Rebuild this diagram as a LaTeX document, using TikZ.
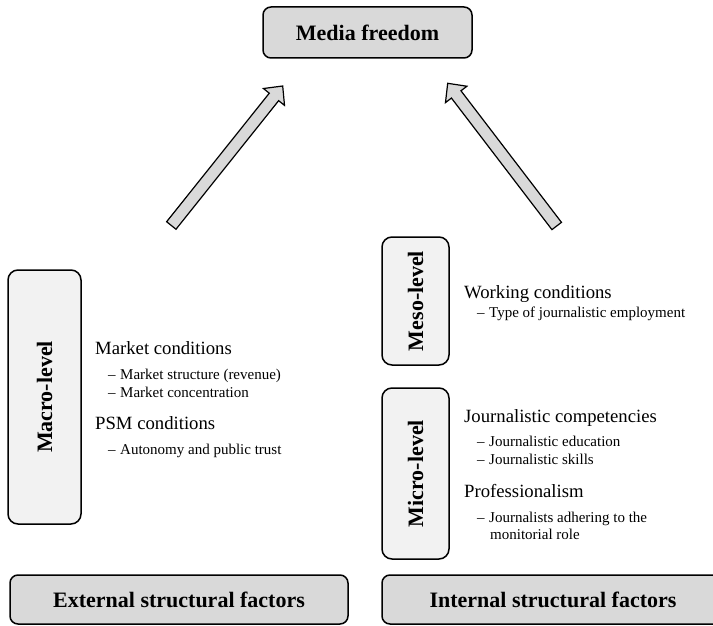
\documentclass[tikz,border=0pt]{standalone}
\usepackage{fontspec}
\setmainfont{Liberation Serif}
\usetikzlibrary{calc}
\definecolor{boxdark}{HTML}{D9D9D9}
\definecolor{boxlight}{HTML}{F2F2F2}
\begin{document}
\begin{tikzpicture}[x=1pt,y=-1pt,
  darkbox/.style={draw=black, line width=1.5pt, fill=boxdark, rounded corners=8pt, inner sep=0pt},
  lightbox/.style={draw=black, line width=1.5pt, fill=boxlight, rounded corners=10pt, inner sep=0pt},
  titletext/.style={font=\fontsize{22}{26}\selectfont\bfseries},
  headtext/.style={anchor=base west, inner sep=0pt, font=\fontsize{18.7}{22}\selectfont},
  itemtext/.style={anchor=base west, inner sep=0pt, font=\fontsize{15}{18}\selectfont},
  blockarrow/.style={draw=black, line width=1.2pt, fill=boxdark, line join=miter}
]
\useasboundingbox (0,0) rectangle (713,626);

% top box
\node[darkbox, titletext, minimum width=209pt, minimum height=51pt] (media) at (367.5,32.5) {Media freedom};

% level boxes
\node[lightbox, titletext, rotate=90, minimum width=254pt, minimum height=73pt] (macro) at (44.5,397) {Macro-level};
\node[lightbox, titletext, rotate=90, minimum width=128pt, minimum height=67pt] (meso) at (415.5,301) {Meso-level};
\node[lightbox, titletext, rotate=90, minimum width=171pt, minimum height=67pt] (micro) at (415.5,473.5) {Micro-level};

% bottom boxes
\node[darkbox, titletext, minimum width=338pt, minimum height=49pt] (external) at (179,599.5) {External structural factors};
\begin{scope}
\clip (0,0) rectangle (713,626);
\node[darkbox, titletext, minimum width=342pt, minimum height=49pt] (internal) at (553,599.5) {Internal structural factors};
\end{scope}

% macro texts
\node[headtext] (mc) at (95,354) {Market conditions};
\node[itemtext] (ms) at (108,379) {–\hspace{0.3em}Market structure (revenue)};
\node[itemtext] (mcon) at (108,397) {–\hspace{0.3em}Market concentration};
\node[headtext] (psm) at (95,429) {PSM conditions};
\node[itemtext] (aut) at (108,454) {–\hspace{0.3em}Autonomy and public trust};

% meso texts
\node[headtext] (wc) at (464,298.5) {Working conditions};
\node[itemtext] (type) at (477,317) {–\hspace{0.3em}Type of journalistic employment};

% micro texts
\node[headtext] (jc) at (464,422) {Journalistic competencies};
\node[itemtext] (je) at (477,446) {–\hspace{0.3em}Journalistic education};
\node[itemtext] (js) at (477,464) {–\hspace{0.3em}Journalistic skills};
\node[headtext] (prof) at (464,497) {Professionalism};
\node[itemtext] (jah) at (477,522) {–\hspace{0.3em}Journalists adhering to the};
\node[itemtext] (mon) at (490,539) {monitorial role};

% block arrows
\coordinate (lt) at (171.3,225.5);
\coordinate (lh) at (282.7,86);
\coordinate (lc) at ($(lh)!14pt!(lt)$);
\draw[blockarrow] ($(lt)!6pt!90:(lh)$) -- ($(lc)!6pt!90:(lh)$) -- ($(lc)!13.5pt!90:(lh)$) -- (lh)
  -- ($(lc)!13.5pt!-90:(lh)$) -- ($(lc)!6pt!-90:(lh)$) -- ($(lt)!6pt!-90:(lh)$) -- cycle;

\coordinate (rt) at (556.7,226);
\coordinate (rh) at (447.7,83.3);
\coordinate (rc) at ($(rh)!14pt!(rt)$);
\draw[blockarrow] ($(rt)!6pt!90:(rh)$) -- ($(rc)!6pt!90:(rh)$) -- ($(rc)!13.5pt!90:(rh)$) -- (rh)
  -- ($(rc)!13.5pt!-90:(rh)$) -- ($(rc)!6pt!-90:(rh)$) -- ($(rt)!6pt!-90:(rh)$) -- cycle;
\end{tikzpicture}
\end{document}
